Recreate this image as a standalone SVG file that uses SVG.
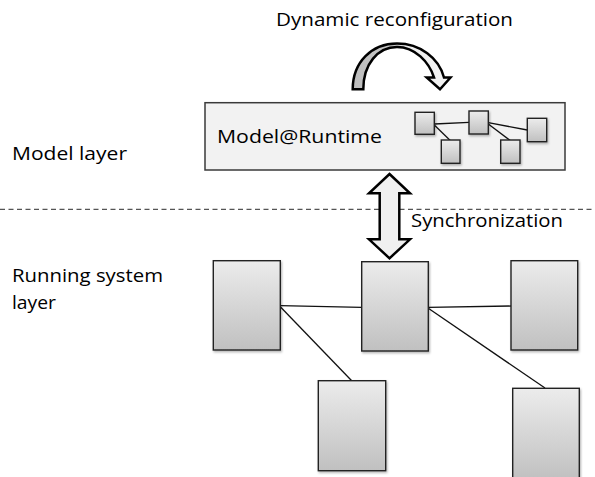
<svg xmlns="http://www.w3.org/2000/svg" width="595" height="477" viewBox="0 0 595 477">
  <defs>
    <linearGradient id="boxGrad" x1="0" y1="0" x2="0" y2="1">
      <stop offset="0" stop-color="#ececec"/>
      <stop offset="1" stop-color="#c0c0c0"/>
    </linearGradient>
    <linearGradient id="curveGrad" x1="0" y1="0" x2="1" y2="0">
      <stop offset="0" stop-color="#bdbdbd"/>
      <stop offset="0.45" stop-color="#c6c6c6"/>
      <stop offset="0.55" stop-color="#ededed"/>
      <stop offset="1" stop-color="#f4f4f4"/>
    </linearGradient>
    <filter id="shadow" x="-20%" y="-20%" width="140%" height="140%">
      <feDropShadow dx="1" dy="1.5" stdDeviation="1" flood-color="#000" flood-opacity="0.3"/>
    </filter>
  </defs>
  <style>
    .lbl { font-family: "Open Sans", "Liberation Sans", Arial, sans-serif; font-size: 19px; fill: #000; }
    .node { fill: url(#boxGrad); stroke: #222; stroke-width: 1.4; filter: url(#shadow); }
    .link { stroke: #111; stroke-width: 1.3; fill: none; }
    .arrow { stroke: #000; stroke-width: 2.5; stroke-linejoin: miter; }
  </style>

  <rect width="595" height="477" fill="#ffffff"/>

  <!-- layer labels -->
  <g id="label-model-layer">
    <text class="lbl" x="12" y="160" textLength="115" lengthAdjust="spacingAndGlyphs">Model layer</text>
  </g>
  <g id="label-running-layer">
    <text class="lbl" x="12" y="282" textLength="151" lengthAdjust="spacingAndGlyphs">Running system</text>
    <text class="lbl" x="12" y="309" textLength="44" lengthAdjust="spacingAndGlyphs">layer</text>
  </g>

  <!-- separator -->
  <g id="separator">
    <line x1="0" y1="209.3" x2="595" y2="209.3" stroke="#555" stroke-width="1.2" stroke-dasharray="5 3.5"/>
  </g>

  <!-- dynamic reconfiguration -->
  <g id="dynamic-reconfiguration">
    <text class="lbl" x="276" y="26" textLength="237" lengthAdjust="spacingAndGlyphs">Dynamic reconfiguration</text>
    <path class="arrow" fill="url(#curveGrad)" d="M352.7,89.3 C352.7,62 372,43.5 397,43.5 C420,43.5 439,58 444,77.5 L450.5,77.5 L440,89.3 L426.7,77.5 L434,77.5 C429,62 415,47 397,47 C378,47 363.3,64 363.3,89.3 Z"/>
  </g>

  <!-- model box -->
  <g id="model-runtime">
    <rect x="205" y="102.7" width="360" height="67.3" fill="#f2f2f2" stroke="#3a3a3a" stroke-width="1.5"/>
    <text class="lbl" x="217" y="143" textLength="165" lengthAdjust="spacingAndGlyphs">Model@Runtime</text>
    <g id="model-links">
      <line class="link" x1="434.3" y1="124" x2="469" y2="122.3"/>
      <line class="link" x1="434.3" y1="125" x2="450.5" y2="140.7"/>
      <line class="link" x1="488.3" y1="122.7" x2="527.3" y2="130"/>
      <line class="link" x1="488.3" y1="124" x2="510.5" y2="140.7"/>
    </g>
    <g id="m1"><rect class="node" x="415" y="112.3" width="19.3" height="22"/></g>
    <g id="m2"><rect class="node" x="441.3" y="140" width="18.7" height="23.3"/></g>
    <g id="m3"><rect class="node" x="469" y="111" width="19.3" height="23"/></g>
    <g id="m4"><rect class="node" x="500.7" y="140" width="19.3" height="23.3"/></g>
    <g id="m5"><rect class="node" x="527.3" y="118.3" width="19.4" height="23.4"/></g>
  </g>

  <!-- synchronization -->
  <g id="synchronization">
    <path class="arrow" fill="#f0f0f0" d="M389.5,174 L410,193.3 L399.3,193.3 L399.3,239.3 L410,239.3 L389.5,258.3 L369,239.3 L379.7,239.3 L379.7,193.3 L369,193.3 Z"/>
    <text class="lbl" x="411" y="226.7" textLength="152" lengthAdjust="spacingAndGlyphs">Synchronization</text>
  </g>

  <!-- running system connectors -->
  <g id="connectors">
    <line class="link" x1="280.3" y1="305.7" x2="361.7" y2="307.3"/>
    <line class="link" x1="280.3" y1="306.7" x2="351.7" y2="380.7"/>
    <line class="link" x1="428.3" y1="307.3" x2="511" y2="306"/>
    <line class="link" x1="428.3" y1="308.3" x2="545" y2="388"/>
  </g>

  <!-- running system nodes -->
  <g id="n1"><rect class="node" x="213.3" y="260.7" width="67" height="89.3"/></g>
  <g id="n2"><rect class="node" x="361.7" y="261.7" width="66.6" height="89.3"/></g>
  <g id="n3"><rect class="node" x="511" y="260.7" width="66.7" height="89.3"/></g>
  <g id="n4"><rect class="node" x="318.3" y="380.7" width="67.4" height="90"/></g>
  <g id="n5"><rect class="node" x="512.7" y="388.3" width="66.6" height="92"/></g>
</svg>
